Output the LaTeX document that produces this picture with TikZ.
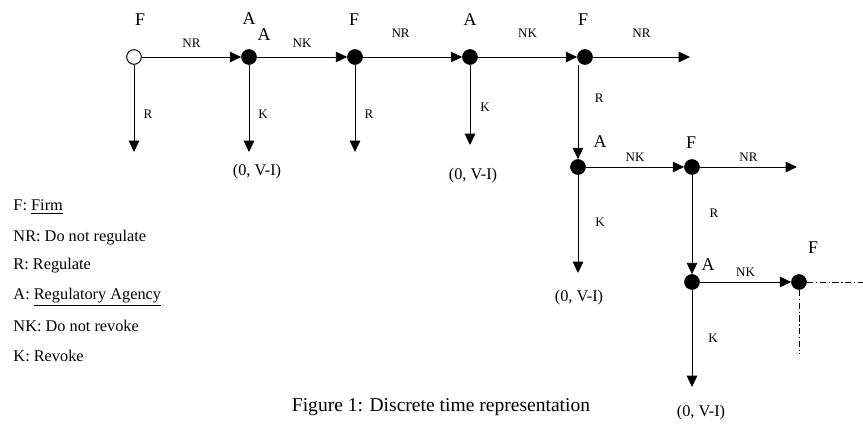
\documentclass[tikz,border=0pt]{standalone}
\usepackage{fontspec}
\setmainfont{Liberation Serif}
\usetikzlibrary{arrows.meta, positioning, calc}

\begin{document}
\begin{tikzpicture}[x=0.6135pt, y=-0.6135pt, line width=0.6pt,
    decision/.style={circle, draw, fill=black, minimum size=9pt, inner sep=0pt},
    start/.style={circle, draw, fill=white, minimum size=9pt, inner sep=0pt},
    player/.style={font=\fontsize{11}{12}\selectfont},
    move/.style={font=\fontsize{8}{10}\selectfont},
    payoff/.style={font=\fontsize{10}{12}\selectfont},
    legend/.style={anchor=west, inner sep=0pt, font=\fontsize{10}{12}\selectfont},
    further/.style={-, dash pattern=on 4pt off 1.5pt on 0.8pt off 1.5pt},
    ->, >={Triangle[length=7pt, width=6.5pt]}]
        \useasboundingbox (0,0) rectangle (863,425);
        % decision points
        \node[start] (f0) at (134,57) {};
        \node[decision] (a1) at (249,57) {};
        \node[decision] (f2) at (355,57) {};
        \node[decision] (a3) at (470,57) {};
        \node[decision] (f4) at (585,57) {};
        \node[decision] (a5) at (578,167) {};
        \node[decision] (f6) at (692,167) {};
        \node[decision] (a7) at (692,282) {};
        \node[decision] (f8) at (799,282) {};
        % who moves
        \node[player] (pf0) at (140,20) {F};
        \node[player] (pa1) at (249,19) {A};
        \node[player] (pa1b) at (264,35) {A};
        \node[player] (pf2) at (354,20) {F};
        \node[player] (pa3) at (470,20) {A};
        \node[player] (pf4) at (583,20) {F};
        \node[player] (pa5) at (600,142) {A};
        \node[player] (pf6) at (691,143) {F};
        \node[player] (pa7) at (708,265) {A};
        \node[player] (pf8) at (813,248) {F};
        % loose ends
        \coordinate (f0r) at (134,152);
        \coordinate (a1k) at (249,152);
        \coordinate (f2r) at (355,152);
        \coordinate (a3k) at (470,145);
        \coordinate (f4nr) at (690,57);
        \coordinate (a5k) at (578,273);
        \coordinate (f6nr) at (797,167);
        \coordinate (a7k) at (692,387);
        \coordinate (f8nr) at (863,282);
        \coordinate (f8r) at (799,354);
        % payoffs
        \node[payoff] (p1) at (257,172) {(0, V-I)};
        \node[payoff] (p3) at (473,176) {(0, V-I)};
        \node[payoff] (p5) at (579,298) {(0, V-I)};
        \node[payoff] (p7) at (701,413) {(0, V-I)};
        % moves along the top
        \path (f0) edge node[move, yshift=8.6pt] {NR} (a1);
        \path (a1) edge node[move, yshift=8.6pt] {NK} (f2);
        \path (f2) edge node[move, pos=0.38, yshift=14.7pt] {NR} (a3);
        \path (a3) edge node[move, yshift=14.7pt] {NK} (f4);
        \path (f4) edge node[move, yshift=14.7pt] {NR} (f4nr);
        \path (f0) edge node[move, pos=0.57, xshift=8.6pt] {R} (f0r);
        \path (a1) edge node[move, pos=0.57, xshift=8.6pt] {K} (a1k);
        \path (f2) edge node[move, pos=0.57, xshift=8.6pt] {R} (f2r);
        \path (a3) edge node[move, pos=0.53, xshift=9.2pt] {K} (a3k);
        % going down
        \path (f4.south -| a5.north) edge node[move, pos=0.35, xshift=13pt] {R} (a5);
        \path (a5) edge node[move, yshift=6.2pt] {NK} (f6);
        \path (f6) edge node[move, yshift=6.2pt] {NR} (f6nr);
        \path (a5) edge node[move, pos=0.48, xshift=13.5pt] {K} (a5k);
        \path (f6) edge node[move, pos=0.39, xshift=13.5pt] {R} (a7);
        \path (a7) edge node[move, yshift=6.2pt] {NK} (f8);
        \path (a7) edge node[move, pos=0.5, xshift=13pt] {K} (a7k);
        \draw[further] (f8) -- (f8nr);
        \draw[further] (f8) -- (f8r);
        % key
        \node[legend] (kf) at (13,207) {F: \underline{Firm}};
        \node[legend] (knr) at (13,238) {NR: Do not regulate};
        \node[legend] (kr) at (13,266) {R: Regulate};
        \node[legend] (ka) at (13,297) {A: \underline{Regulatory Agency}};
        \node[legend] (knk) at (13,326) {NK: Do not revoke};
        \node[legend] (kk) at (13,356) {K: Revoke};
        \node[font=\fontsize{12}{14}\selectfont] (cap) at (441,407) {Figure 1: Discrete time representation};
    \end{tikzpicture}
\end{document}
